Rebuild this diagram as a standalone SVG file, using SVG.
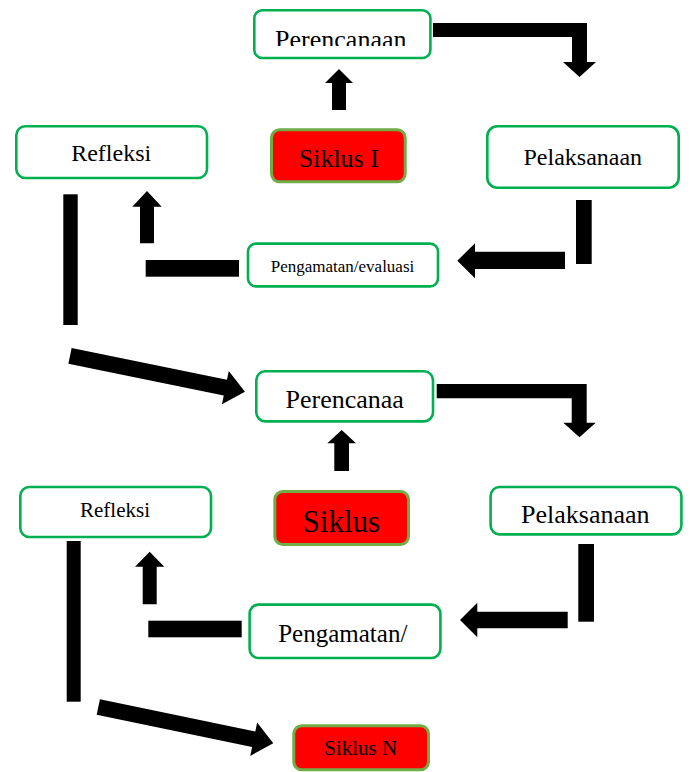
<svg xmlns="http://www.w3.org/2000/svg" width="690" height="772" viewBox="0 0 690 772">
<style>
.box{fill:#fff;stroke:#00B050;stroke-width:2.6}
.red{fill:#FF0000;stroke:#70AD47;stroke-width:3}
.t{font-family:"Liberation Serif","Times New Roman",serif;fill:#000;text-anchor:middle}
.c{fill:#000;stroke:none}
</style>
<defs>
<clipPath id="clipTop"><rect x="250" y="5" width="190" height="41"/></clipPath>
</defs>
<rect width="690" height="772" fill="#fff"/>

<g id="connectors">
<!-- cycle 1 -->
<polygon class="c" points="433,23 587,23 587,62 596,62 579.5,77 563,62 572,62 572,37 433,37"/>
<polygon class="c" points="332,110 332,83 325,83 339,69 353,83 346,83 346,110"/>
<rect class="c" x="576" y="200" width="15.7" height="64"/>
<polygon class="c" points="565,251.7 475,251.7 475,243.3 457.3,260.7 475,278.3 475,269 565,269"/>
<rect class="c" x="145.7" y="260" width="93.3" height="16.7"/>
<polygon class="c" points="140,243.3 140,206.7 132.3,206.7 147,191 161.7,206.7 154,206.7 154,243.3"/>
<rect class="c" x="63.3" y="194.3" width="14.4" height="130.7"/>
<polygon class="c" transform="translate(70,355.8) rotate(11.59)" points="0,-8 158.6,-8 158.6,-17 178.6,0 158.6,17 158.6,8 0,8"/>
<!-- cycle 2 -->
<polygon class="c" points="436.7,384 586.7,384 586.7,422.7 595.7,422.7 579.5,437.3 563.3,422.7 571.7,422.7 571.7,398.3 436.7,398.3"/>
<polygon class="c" points="334.3,471 334.3,443.3 327.3,443.3 341.7,430 356,443.3 349,443.3 349,471"/>
<rect class="c" x="578.3" y="544" width="15.7" height="77.7"/>
<polygon class="c" points="567.7,611.7 477.3,611.7 477.3,602.7 460,620 477.3,637.3 477.3,628.3 567.7,628.3"/>
<rect class="c" x="148.3" y="620.7" width="93.4" height="16.6"/>
<polygon class="c" points="142.7,604.3 142.7,566.7 135,566.7 149.7,551.7 164.3,566.7 156.7,566.7 156.7,604.3"/>
<rect class="c" x="66.7" y="541" width="14" height="160.7"/>
<polygon class="c" transform="translate(98.3,707) rotate(11.72)" points="0,-8 158.7,-8 158.7,-17 178.7,0 158.7,17 158.7,8 0,8"/>
</g>

<g id="perencanaan1">
<rect class="box" x="254.3" y="10.3" width="176.1" height="47.7" rx="8"/>
<text class="t" x="340.8" y="48" font-size="26" clip-path="url(#clipTop)">Perencanaan</text>
</g>
<g id="siklus1">
<rect class="red" x="271.5" y="129.8" width="133.7" height="52" rx="8"/>
<text class="t" x="338.8" y="166.7" font-size="26">Siklus I</text>
</g>
<g id="pelaksanaan1">
<rect class="box" x="487.3" y="126.3" width="191.4" height="61.4" rx="10"/>
<text class="t" x="582.8" y="165" font-size="24">Pelaksanaan</text>
</g>
<g id="refleksi1">
<rect class="box" x="16.3" y="126.3" width="190.7" height="51.7" rx="9"/>
<text class="t" x="111.2" y="160.7" font-size="24">Refleksi</text>
</g>
<g id="pengamatan1">
<rect class="box" x="248" y="243.6" width="190" height="42.8" rx="8"/>
<text class="t" x="342.5" y="271.7" font-size="17">Pengamatan/evaluasi</text>
</g>

<g id="perencanaan2">
<rect class="box" x="256.3" y="371.3" width="176.7" height="50.1" rx="9"/>
<text class="t" x="344.7" y="408.3" font-size="26">Perencanaa</text>
</g>
<g id="siklus2">
<rect class="red" x="274.8" y="491.5" width="133.7" height="53" rx="8"/>
<text class="t" x="341.3" y="532.3" font-size="31">Siklus</text>
</g>
<g id="pelaksanaan2">
<rect class="box" x="490.6" y="487" width="190.8" height="47.4" rx="9"/>
<text class="t" x="585.3" y="523.3" font-size="26">Pelaksanaan</text>
</g>
<g id="refleksi2">
<rect class="box" x="20.3" y="487" width="190.7" height="50" rx="9"/>
<text class="t" x="115" y="516.7" font-size="21">Refleksi</text>
</g>
<g id="pengamatan2">
<rect class="box" x="249.6" y="604.6" width="190.8" height="53.4" rx="9"/>
<text class="t" x="342.8" y="641.7" font-size="25">Pengamatan/</text>
</g>
<g id="siklusN">
<rect class="red" x="293.8" y="725.8" width="134.7" height="44" rx="8"/>
<text class="t" x="360.7" y="755" font-size="21">Siklus N</text>
</g>
</svg>
